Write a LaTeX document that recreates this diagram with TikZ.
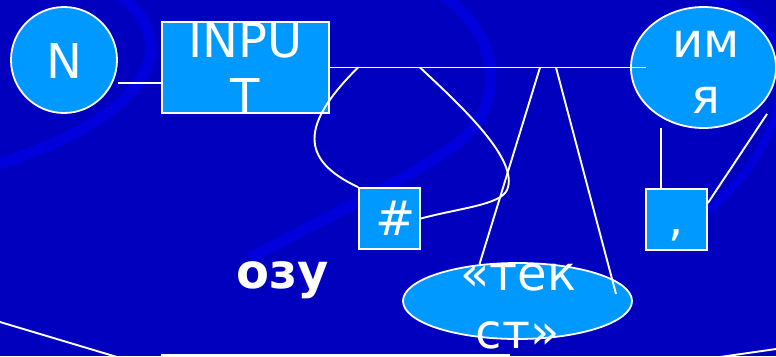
\documentclass[tikz,border=0pt]{standalone}
\usepackage{fontspec}
\setmainfont{DejaVu Sans}
\usetikzlibrary{shapes.geometric,calc}
\definecolor{bgblue}{HTML}{0000BE}
\definecolor{bandblue}{HTML}{0000DC}
\definecolor{fillblue}{HTML}{0099FF}
\begin{document}
\begin{tikzpicture}[x=1pt,y=-1pt,
  shapebox/.style={draw=white, line width=1.8pt, fill=fillblue, inner sep=0pt},
  lbl/.style={text=white, font=\fontsize{48}{56}\selectfont, inner sep=0pt, anchor=base},
  conn/.style={draw=white, line width=1.9pt},
  band/.style={draw=bandblue, line width=11pt}]
\useasboundingbox (0,0) rectangle (776,356);
\fill[bgblue] (0,0) rectangle (776,356);
\begin{scope}
  \clip (0,0) rectangle (776,356);
  \draw[band] (118,-6) .. controls (175,35) and (170,110) .. (-5,165);
  \draw[band] (440,-6) .. controls (505,35) and (505,110) .. (455,145) .. controls (410,178) and (350,205) .. (250,258);
  \draw[band, line width=8pt] (705,-4) .. controls (800,15) and (810,120) .. (710,210);
\end{scope}
% shapes
\node[shapebox, circle, minimum size=106pt] (N) at (64,60) {};
\node[shapebox, rectangle, minimum width=167pt, minimum height=91pt] (inp) at (245.5,67.5) {};
\node[shapebox, ellipse, minimum width=145pt, minimum height=121pt] (imya) at (703.5,67.5) {};
\node[shapebox, rectangle, minimum size=61pt] (hash) at (389.5,218.5) {};
\node[shapebox, rectangle, minimum size=61pt] (comma) at (676.5,219.5) {};
\node[shapebox, ellipse, minimum width=229pt, minimum height=76pt] (tekst) at (517.5,301) {};
% texts
\node[lbl] (Nt) at (64,78) {N};
\node[lbl] (inpA) at (245.5,57) {INPU};
\node[lbl] (inpB) at (245.5,113) {T};
\node[lbl] (imA) at (706,57) {им};
\node[lbl] (imB) at (706,113) {я};
\node[lbl] (hasht) at (396,235) {\#};
\node[lbl] (commat) at (676,235) {,};
\node[lbl] (tkA) at (518.5,290) {«тек};
\node[lbl] (tkB) at (517.5,348) {ст»};
\node[lbl, font=\bfseries\fontsize{48}{56}\selectfont] (ozu) at (283,288) {озу};
% connectors
\coordinate (b1) at (358,67.5);
\coordinate (b2) at (420,67.5);
\coordinate (b3) at (540,67.5);
\coordinate (b4) at (556,67.5);
\coordinate (t1) at (616,294);
\coordinate (c1) at (661,128);
\coordinate (c2) at (767,114);
\draw[conn] ($(N.east)+(0,23)$) -- ($(inp.west)+(0,15.5)$);
\draw[conn] (inp.east) -- ($(imya.west)+(16,0)$);
\draw[conn] (b1) .. controls (300,125) and (300,160) .. (hash.north west);
\draw[conn] (b2) .. controls (460,105) and (520,160) .. (507,190) .. controls (500,205) and (460,208) .. (hash.east);
\draw[conn] (b3) -- (tekst.136);
\draw[conn] (b4) -- (t1);
\draw[conn] (c1) -- (c1 |- comma.north);
\draw[conn] ($(comma.east)+(0,-16.5)$) -- (c2);
% bottom fragments
\coordinate (d1) at (0,322);
\coordinate (d2) at (117,357);
\coordinate (e1) at (161,355);
\coordinate (e2) at (510,355);
\coordinate (f1) at (720,357);
\coordinate (f2) at (776,349);
\draw[conn] (d1) -- (d2);
\draw[conn] (e1) -- (e2);
\draw[conn] (f1) -- (f2);
\end{tikzpicture}
\end{document}
